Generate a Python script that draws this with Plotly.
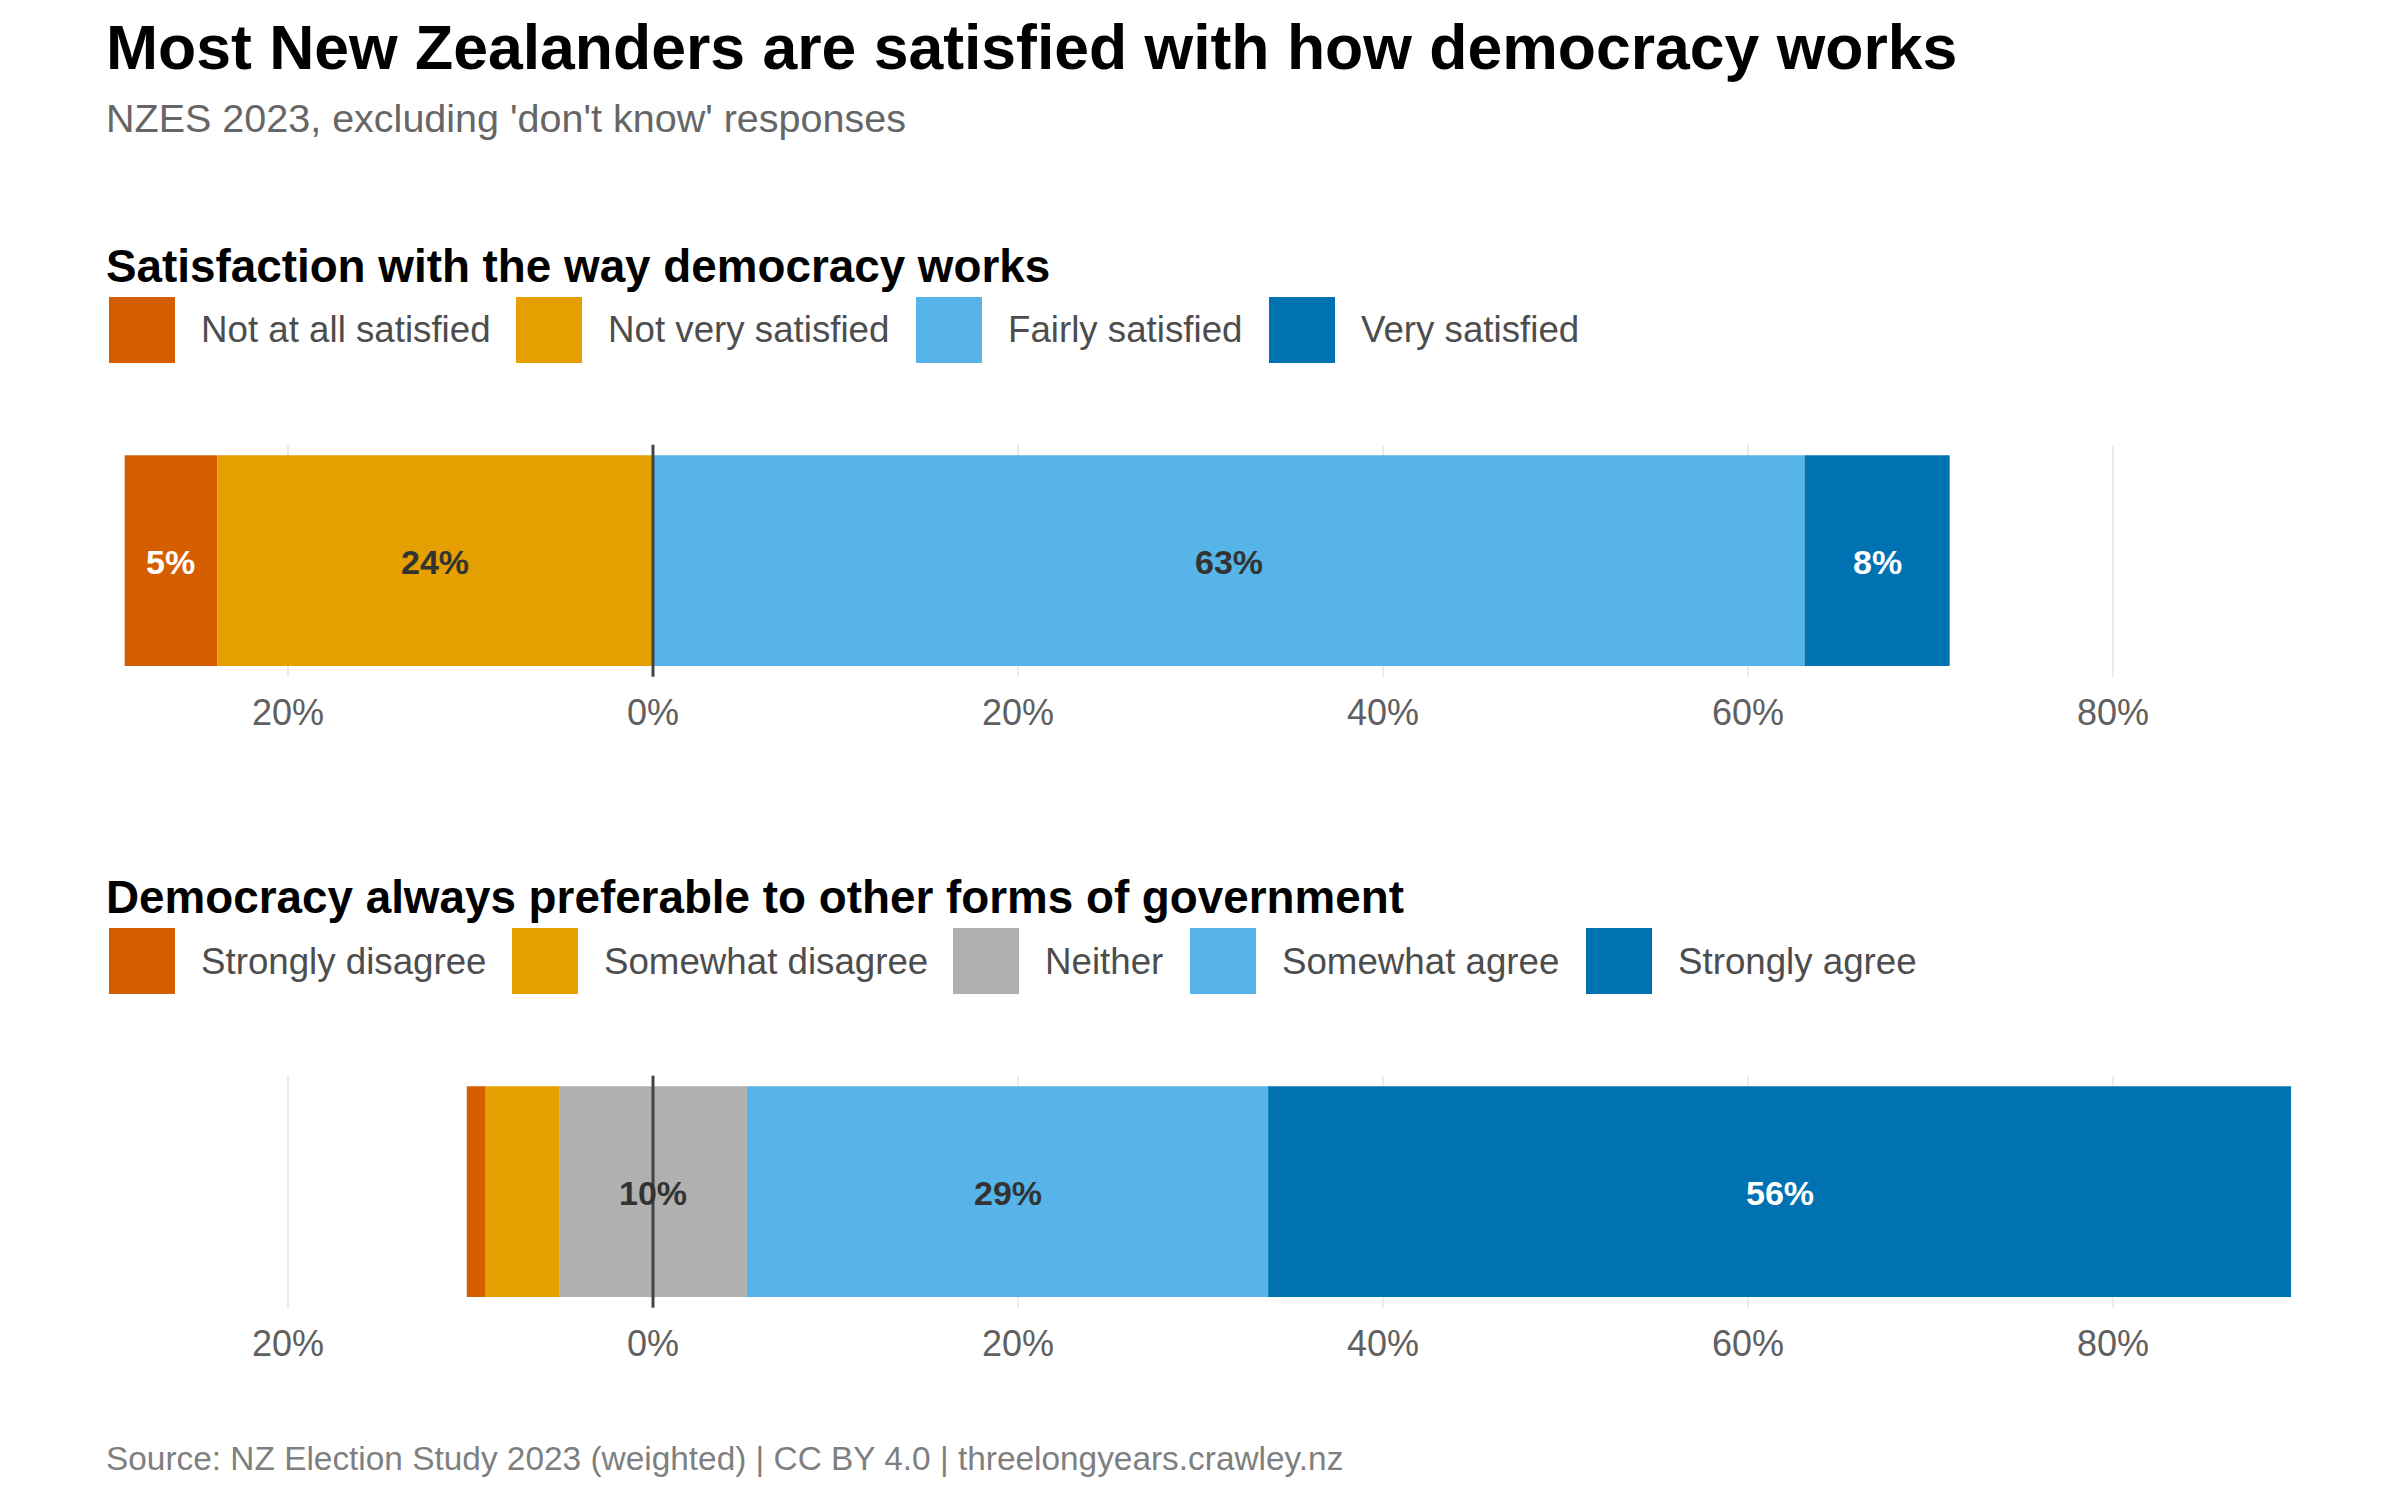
import plotly.graph_objects as go

# ---------------- data ----------------
q1_title = "Satisfaction with the way democracy works"
q1_cats = ["Not at all satisfied", "Not very satisfied", "Fairly satisfied", "Very satisfied"]
q1_vals = [5.07, 23.88, 63.10, 7.95]
q1_side = ["neg", "neg", "pos", "pos"]

q2_title = "Democracy always preferable to other forms of government"
q2_cats = ["Strongly disagree", "Somewhat disagree", "Neither", "Somewhat agree", "Strongly agree"]
q2_vals = [1.04, 4.02, 10.29, 28.56, 56.05]
q2_side = ["neg", "neg", "mid", "pos", "pos"]

tick_vals = [-20, 0, 20, 40, 60, 80]
tick_text = ["20%", "0%", "20%", "40%", "60%", "80%"]

title = "Most New Zealanders are satisfied with how democracy works"
subtitle = "NZES 2023, excluding 'don't know' responses"
caption = "Source: NZ Election Study 2023 (weighted) | CC BY 4.0 | threelongyears.crawley.nz"

# ---------------- styling ----------------
FONT = "Liberation Sans, Arial, sans-serif"
W, H = 2400, 1500
col1 = ["#D55E00", "#E69F00", "#56B4E9", "#0072B2"]
col2 = ["#D55E00", "#E69F00", "#B0B0B0", "#56B4E9", "#0072B2"]
lab1 = ["white", "#333333", "#333333", "white"]
lab2 = ["white", "#333333", "#333333", "#333333", "white"]

x_range = [-32, 92]
x_dom = [69 / W, 2332 / W]
y_dom1 = [1 - 676.7 / H, 1 - 444.7 / H]
y_dom2 = [1 - 1307.7 / H, 1 - 1075.7 / H]

leg1_px = [109, 516, 916, 1269]
leg2_px = [109, 512, 953, 1190, 1586]
leg1_y = 330
leg2_y = 961
KEY = 66


def segments(vals, sides):
    """Return left edges of diverging stacked segments."""
    neg = [v for v, s in zip(vals, sides) if s == "neg"]
    mid = sum(v for v, s in zip(vals, sides) if s == "mid")
    left = -sum(neg) - mid / 2
    lefts = []
    for v in vals:
        lefts.append(left)
        left += v
    return lefts


fig = go.Figure()
q_y = "q"
ann = []


def add_panel(cats, vals, sides, cols, labcols, xa, ya):
    lefts = segments(vals, sides)
    for c, v, l, col in zip(cats, vals, lefts, cols):
        fig.add_trace(go.Bar(
            y=[q_y], x=[v], base=[l], orientation="h", name=c,
            marker=dict(color=col, line=dict(width=0)), width=0.908,
            xaxis=xa, yaxis=ya, showlegend=False, hoverinfo="name+x",
        ))
    for v, l, lc in zip(vals, lefts, labcols):
        if v >= 5:
            ann.append(dict(
                x=l + v / 2, y=q_y, xref=xa, yref=ya, showarrow=False,
                text=f"{round(v)}%", xanchor="center", yanchor="middle", yshift=-1,
                font=dict(family=FONT, size=34, color=lc, weight="bold"),
            ))


add_panel(q1_cats, q1_vals, q1_side, col1, lab1, "x", "y")
add_panel(q2_cats, q2_vals, q2_side, col2, lab2, "x2", "y2")

axis_common = dict(
    range=x_range, domain=x_dom, tickvals=tick_vals, ticktext=tick_text,
    showgrid=True, gridcolor="#EBEBEB", gridwidth=2, zeroline=False,
    showline=False, ticks="", tickfont=dict(family=FONT, size=36, color="#606060"),
    ticklabelstandoff=11, fixedrange=True,
)
yaxis_common = dict(showticklabels=False, showgrid=False, zeroline=False,
                    showline=False, range=[-0.5, 0.5], fixedrange=True)

fig.update_layout(
    width=W, height=H,
    margin=dict(l=0, r=0, t=0, b=0),
    paper_bgcolor="white", plot_bgcolor="white",
    barmode="overlay",
    xaxis=dict(anchor="y", **axis_common),
    xaxis2=dict(anchor="y2", **axis_common),
    yaxis=dict(anchor="x", domain=y_dom1, **yaxis_common),
    yaxis2=dict(anchor="x2", domain=y_dom2, **yaxis_common),
    font=dict(family=FONT),
)

# zero reference lines on top of bars
for xr, yr in [("x", "y domain"), ("x2", "y2 domain")]:
    fig.add_shape(type="line", xref=xr, yref=yr, x0=0, x1=0, y0=0, y1=1,
                  line=dict(color="#444444", width=3), layer="above")


def text(x_px, y_px, s, size, color, bold=False):
    ann.append(dict(
        x=x_px / W, y=1 - y_px / H, xref="paper", yref="paper",
        xanchor="left", yanchor="middle", showarrow=False, text=s,
        font=dict(family=FONT, size=size, color=color, weight="bold" if bold else "normal"),
    ))


text(104, 47, title, 62.5, "#000000", True)
text(104, 118, subtitle, 39.5, "#666666")
text(104, 266, q1_title, 45.8, "#000000", True)
text(104, 897, q2_title, 45.8, "#000000", True)
text(104, 1458, caption, 33.4, "#7F7F7F")


def legend(xs, yc, cats, cols):
    for xp, c, col in zip(xs, cats, cols):
        fig.add_shape(type="rect", xref="paper", yref="paper",
                      x0=xp / W, x1=(xp + KEY) / W,
                      y0=1 - (yc + KEY / 2) / H, y1=1 - (yc - KEY / 2) / H,
                      fillcolor=col, line=dict(width=0))
        text(xp + 90, yc, c, 36.7, "#4D4D4D")


legend(leg1_px, leg1_y, q1_cats, col1)
legend(leg2_px, leg2_y, q2_cats, col2)

fig.update_layout(annotations=ann)
fig.write_html("out.html")
